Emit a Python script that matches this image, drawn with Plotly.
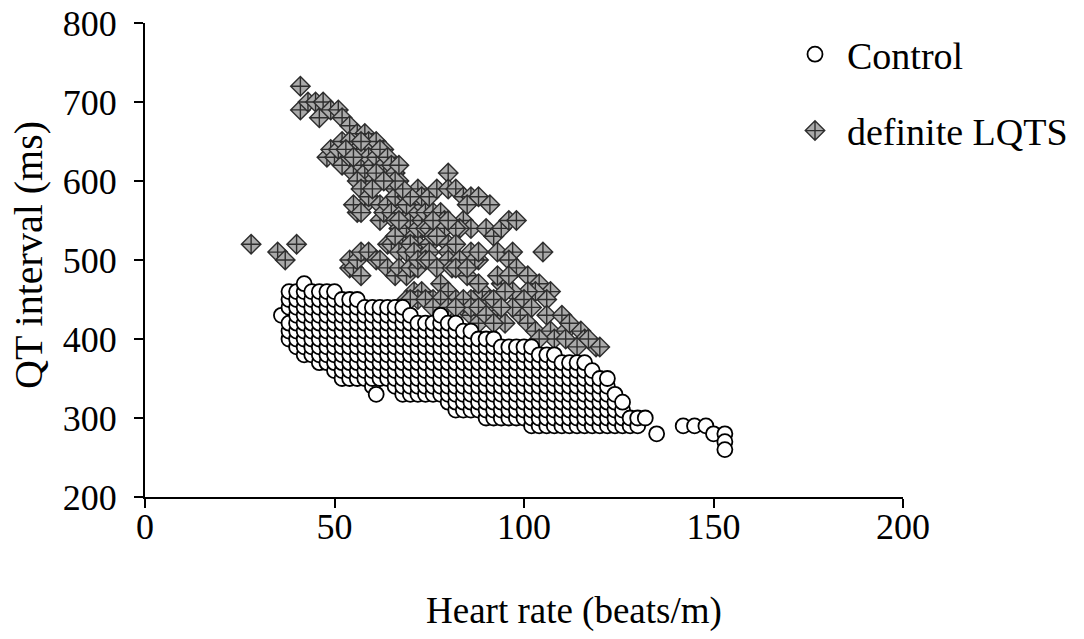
import plotly.graph_objects as go

# ---- Control group (heart rate in beats/min, QT in ms), read column by column ----
control_hr = [
    36,
    38, 38, 38, 38, 38, 38,
    40, 40, 40, 40, 40, 40, 40, 40,
    42, 42, 42, 42, 42, 42, 42, 42, 42, 42,
    44, 44, 44, 44, 44, 44, 44, 44, 44,
    46, 46, 46, 46, 46, 46, 46, 46, 46, 46,
    48, 48, 48, 48, 48, 48, 48, 48, 48, 48,
    50, 50, 50, 50, 50, 50, 50, 50, 50, 50, 50,
    52, 52, 52, 52, 52, 52, 52, 52, 52, 52, 52,
    54, 54, 54, 54, 54, 54, 54, 54, 54, 54, 54,
    56, 56, 56, 56, 56, 56, 56, 56, 56, 56, 56,
    58, 58, 58, 58, 58, 58, 58, 58, 58, 58,
    60, 60, 60, 60, 60, 60, 60, 60, 60, 60, 60,
    61,
    62, 62, 62, 62, 62, 62, 62, 62, 62, 62,
    64, 64, 64, 64, 64, 64, 64, 64, 64, 64,
    66, 66, 66, 66, 66, 66, 66, 66, 66, 66, 66,
    68, 68, 68, 68, 68, 68, 68, 68, 68, 68, 68, 68,
    70, 70, 70, 70, 70, 70, 70, 70, 70, 70, 70,
    72, 72, 72, 72, 72, 72, 72, 72, 72, 72,
    74, 74, 74, 74, 74, 74, 74, 74, 74, 74,
    76, 76, 76, 76, 76, 76, 76, 76, 76, 76,
    78, 78, 78, 78, 78, 78, 78, 78, 78, 78, 78,
    80, 80, 80, 80, 80, 80, 80, 80, 80, 80, 80,
    82, 82, 82, 82, 82, 82, 82, 82, 82, 82, 82, 82,
    84, 84, 84, 84, 84, 84, 84, 84, 84, 84, 84,
    86, 86, 86, 86, 86, 86, 86, 86, 86, 86, 86,
    88, 88, 88, 88, 88, 88, 88, 88, 88, 88,
    90, 90, 90, 90, 90, 90, 90, 90, 90, 90, 90,
    92, 92, 92, 92, 92, 92, 92, 92, 92, 92, 92,
    94, 94, 94, 94, 94, 94, 94, 94, 94, 94,
    96, 96, 96, 96, 96, 96, 96, 96, 96, 96,
    98, 98, 98, 98, 98, 98, 98, 98, 98, 98,
    100, 100, 100, 100, 100, 100, 100, 100, 100, 100,
    102, 102, 102, 102, 102, 102, 102, 102, 102, 102, 102,
    104, 104, 104, 104, 104, 104, 104, 104, 104, 104,
    106, 106, 106, 106, 106, 106, 106, 106, 106, 106,
    108, 108, 108, 108, 108, 108, 108, 108, 108, 108,
    110, 110, 110, 110, 110, 110, 110, 110, 110,
    112, 112, 112, 112, 112, 112, 112, 112, 112,
    114, 114, 114, 114, 114, 114, 114, 114, 114,
    116, 116, 116, 116, 116, 116, 116, 116, 116,
    118, 118, 118, 118, 118, 118, 118, 118,
    120, 120, 120, 120, 120, 120, 120,
    122, 122, 122, 122, 122, 122, 122,
    124, 124, 124, 124, 124,
    126, 126, 126, 126,
    128, 128,
    130, 130,
    132,
    135,
    142,
    145,
    148,
    150,
    153, 153, 153,
]
control_qt = [
    430,
    400, 410, 420, 440, 450, 460,
    390, 400, 410, 420, 430, 440, 450, 460,
    380, 390, 400, 410, 420, 430, 440, 450, 460, 470,
    380, 390, 400, 410, 420, 430, 440, 450, 460,
    370, 380, 390, 400, 410, 420, 430, 440, 450, 460,
    370, 380, 390, 400, 410, 420, 430, 440, 450, 460,
    360, 370, 380, 390, 400, 410, 420, 430, 440, 450, 460,
    350, 360, 370, 380, 390, 400, 410, 420, 430, 440, 450,
    350, 360, 370, 380, 390, 400, 410, 420, 430, 440, 450,
    350, 360, 370, 380, 390, 400, 410, 420, 430, 440, 450,
    350, 360, 370, 380, 390, 400, 410, 420, 430, 440,
    340, 350, 360, 370, 380, 390, 400, 410, 420, 430, 440,
    330,
    350, 360, 370, 380, 390, 400, 410, 420, 430, 440,
    350, 360, 370, 380, 390, 400, 410, 420, 430, 440,
    340, 350, 360, 370, 380, 390, 400, 410, 420, 430, 440,
    330, 340, 350, 360, 370, 380, 390, 400, 410, 420, 430, 440,
    330, 340, 350, 360, 370, 380, 390, 400, 410, 420, 430,
    330, 340, 350, 360, 370, 380, 390, 400, 410, 420,
    330, 340, 350, 360, 370, 380, 390, 400, 410, 420,
    330, 340, 350, 360, 370, 380, 390, 400, 410, 420,
    330, 340, 350, 360, 370, 380, 390, 400, 410, 420, 430,
    320, 330, 340, 350, 360, 370, 380, 390, 400, 410, 420,
    310, 320, 330, 340, 350, 360, 370, 380, 390, 400, 410, 420,
    310, 320, 330, 340, 350, 360, 370, 380, 390, 400, 410,
    310, 320, 330, 340, 350, 360, 370, 380, 390, 400, 410,
    310, 320, 330, 340, 350, 360, 370, 380, 390, 400,
    300, 310, 320, 330, 340, 350, 360, 370, 380, 390, 400,
    300, 310, 320, 330, 340, 350, 360, 370, 380, 390, 400,
    300, 310, 320, 330, 340, 350, 360, 370, 380, 390,
    300, 310, 320, 330, 340, 350, 360, 370, 380, 390,
    300, 310, 320, 330, 340, 350, 360, 370, 380, 390,
    300, 310, 320, 330, 340, 350, 360, 370, 380, 390,
    290, 300, 310, 320, 330, 340, 350, 360, 370, 380, 390,
    290, 300, 310, 320, 330, 340, 350, 360, 370, 380,
    290, 300, 310, 320, 330, 340, 350, 360, 370, 380,
    290, 300, 310, 320, 330, 340, 350, 360, 370, 380,
    290, 300, 310, 320, 330, 340, 350, 360, 370,
    290, 300, 310, 320, 330, 340, 350, 360, 370,
    290, 300, 310, 320, 330, 340, 350, 360, 370,
    290, 300, 310, 320, 330, 340, 350, 360, 370,
    290, 300, 310, 320, 330, 340, 350, 360,
    290, 300, 310, 320, 330, 340, 350,
    290, 300, 310, 320, 330, 340, 350,
    290, 300, 310, 320, 330,
    290, 300, 310, 320,
    290, 300,
    290, 300,
    300,
    280,
    290,
    290,
    290,
    280,
    280, 270, 260,
]

# ---- Definite LQTS group ----
lqts_hr = [
    28, 35, 37, 40, 41, 41, 43, 45, 46, 47, 49, 51, 52, 54, 56, 58, 59, 61, 63,
    48, 49, 50, 51, 52, 52, 54, 54, 55, 56,
    57, 58, 58, 59, 60, 60, 61, 62, 62, 63,
    64, 64, 65, 66, 66, 67, 67, 56, 57, 56,
    58, 59, 60, 62, 62, 63, 64, 65, 66, 66,
    67, 68, 68, 69, 69, 70, 70, 71, 71, 72,
    72, 72, 73, 73, 73, 74, 74, 75, 75, 76,
    76, 77, 78, 79, 79, 80, 80, 64, 65, 66,
    67, 69, 70, 71, 75, 77, 72, 73, 75, 69,
    67, 76, 70, 68, 66, 53, 55, 57, 61, 63,
    77, 80, 80, 82, 84, 86, 88, 91, 85, 84,
    86, 90, 92, 94, 96, 98, 83, 82, 80, 82,
    86, 88, 93, 97, 105, 96, 98, 101, 104, 107,
    106, 103, 101, 85, 89, 91, 94, 93, 96, 97,
    80, 55, 57,
    54, 54, 55, 56, 57, 57, 59, 61, 62, 64,
    66, 67, 69, 70, 72, 72, 74, 75, 77, 78,
    81, 83, 87, 88, 71, 73, 69, 72, 76, 80,
    80, 82, 86, 88, 82, 85,
    84, 86, 88, 93, 95, 99, 101, 103, 106, 107,
    110, 111, 115, 116, 119, 120, 108, 104, 111, 114,
    90, 97, 92, 100, 95, 112, 117, 102,
    70, 74, 78, 84, 86, 88, 76, 80, 82, 90,
    92, 94,
]
lqts_qt = [
    520, 510, 500, 520, 720, 690, 700, 700, 680, 700, 690, 690, 680, 670, 660, 660, 650, 650, 640,
    630, 640, 630, 640, 650, 620, 630, 650, 610, 640,
    620, 640, 610, 630, 600, 620, 630, 610, 640, 620,
    600, 630, 620, 610, 590, 600, 620, 600, 590, 560,
    570, 580, 590, 570, 550, 560, 570, 560, 580, 550,
    540, 560, 530, 580, 540, 570, 550, 580, 530, 560,
    520, 540, 570, 550, 510, 540, 560, 540, 520, 560,
    530, 550, 560, 550, 540, 520, 510, 520, 520, 530,
    510, 510, 520, 510, 510, 530, 590, 580, 580, 570,
    550, 550, 580, 590, 600, 640, 630, 650, 610, 600,
    590, 610, 590, 590, 580, 580, 580, 570, 570, 550,
    540, 540, 530, 540, 550, 550, 540, 540, 550, 520,
    510, 500, 510, 510, 510, 500, 490, 480, 470, 460,
    450, 460, 460, 480, 460, 450, 470, 480, 480, 460,
    500, 570, 560,
    490, 500, 490, 500, 480, 510, 510, 500, 500, 490,
    480, 490, 480, 490, 490, 500, 500, 500, 490, 470,
    490, 500, 500, 510, 460, 460, 450, 450, 450, 450,
    460, 450, 450, 470, 490, 490,
    440, 430, 420, 430, 420, 430, 420, 410, 430, 410,
    430, 410, 410, 400, 390, 390, 400, 400, 400, 390,
    440, 440, 450, 450, 460, 420, 400, 440,
    450, 450, 450, 450, 440, 440, 440, 440, 440, 430,
    420, 440,
]

x_ticks = [0, 50, 100, 150, 200]
y_ticks = [200, 300, 400, 500, 600, 700, 800]

FONT = "Liberation Serif, Times New Roman, serif"

fig = go.Figure()

fig.add_trace(go.Scatter(
    x=lqts_hr, y=lqts_qt, mode="markers", name="definite LQTS",
    legendgroup="b", legendrank=2,
    marker=dict(symbol="diamond-cross", size=15, color="#aaaaaa",
                line=dict(color="#2e2e2e", width=1.4)),
))
fig.add_trace(go.Scatter(
    x=control_hr, y=control_qt, mode="markers", name="Control",
    legendgroup="a", legendrank=1,
    marker=dict(symbol="circle", size=15, color="white",
                line=dict(color="black", width=1.8)),
))

# The page body margin is removed (see post_script), so screen px == figure px.
W, H = 1084, 639
L, R, T, B = 145, 181, 23, 142
PW, PH = W - L - R, H - T - B
X0, Y0 = L, T  # plot-area origin (top-left)


def px(sx):
    return (sx - X0) / PW


def py(sy):
    return 1 - (sy - Y0) / PH


fig.update_layout(
    width=W, height=H,
    margin=dict(l=L, r=R, t=T, b=B, autoexpand=False),
    paper_bgcolor="white", plot_bgcolor="white",
    font=dict(family=FONT, size=36, color="black"),
    showlegend=True,
    legend=dict(x=px(783), y=py(23), xanchor="left", yanchor="top",
                font=dict(family=FONT, size=38, color="black"),
                bgcolor="rgba(0,0,0,0)", borderwidth=0,
                traceorder="grouped", tracegroupgap=24, itemwidth=54),
    xaxis=dict(range=[0, 200], tickvals=x_ticks, ticktext=[str(v) for v in x_ticks],
               showgrid=False, zeroline=False, showline=True, linecolor="black",
               linewidth=2, ticks="outside", ticklen=9, tickwidth=2, tickcolor="black",
               tickfont=dict(family=FONT, size=36), automargin=False,
               ticklabelstandoff=-12, ticklabeloverflow="allow"),
    yaxis=dict(range=[200, 800], tickvals=y_ticks, ticktext=[str(v) for v in y_ticks],
               showgrid=False, zeroline=False, showline=True, linecolor="black",
               linewidth=2, ticks="outside", ticklen=9, tickwidth=2, tickcolor="black",
               tickfont=dict(family=FONT, size=36), ticklabelstandoff=10,
               automargin=False, ticklabeloverflow="allow"),
    annotations=[
        dict(text="Heart rate (beats/m)", xref="paper", yref="paper",
             x=px(574), y=py(611), xanchor="center", yanchor="middle",
             showarrow=False, font=dict(family=FONT, size=37)),
        dict(text="QT interval (ms)", xref="paper", yref="paper",
             x=px(28), y=py(255), xanchor="center", yanchor="middle",
             showarrow=False, textangle=-90, font=dict(family=FONT, size=40)),
    ],
)

fig.write_html("out.html", config={"displayModeBar": False},
               post_script="document.body.style.margin='0px';")
